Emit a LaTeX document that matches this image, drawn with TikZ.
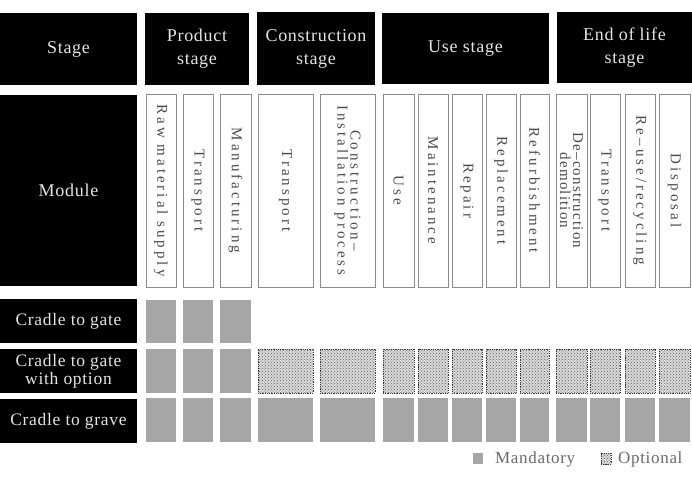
\documentclass[tikz,border=0pt]{standalone}
\usepackage{fontspec}
\setmainfont{Liberation Serif}
\newfontfamily\hdfont[LetterSpace=4]{Liberation Serif}
\newfontfamily\modfont[LetterSpace=20]{Liberation Serif}
\newfontfamily\modfontn[LetterSpace=8]{Liberation Serif}
\usetikzlibrary{patterns}
\definecolor{mand}{HTML}{A6A6A6}
\definecolor{lighttext}{HTML}{E4E4E4}
\definecolor{modtext}{HTML}{4A4A4A}
\definecolor{legtext}{HTML}{6A6A6A}
\definecolor{modline}{HTML}{8A8A8A}
\newcommand\hbx[6]{\node[#1, minimum width={(#4)-(#2)}, minimum height={(#5)-(#3)}] (#6) at ({((#2)+(#4))/2},{((#3)+(#5))/2})}
\newcommand\vbx[6]{\node[#1, minimum height={(#4)-(#2)}, minimum width={(#5)-(#3)}] (#6) at ({((#2)+(#4))/2},{((#3)+(#5))/2})}
\begin{document}
\begin{tikzpicture}[x=1pt,y=-1pt,
  blackbox/.style={fill=black, draw=none, text=lighttext, inner sep=0pt, outer sep=0pt, align=center, font=\hdfont\fontsize{18}{23}\selectfont},
  rowbox/.style={blackbox, font=\hdfont\fontsize{17.5}{18}\selectfont},
  modbox/.style={draw=modline, line width=0.8pt, fill=white, inner sep=0pt, outer sep=0pt, align=center, text=modtext, font=\modfont\fontsize{15}{13}\selectfont, rotate=-90},
  mandcell/.style={fill=mand, inner sep=0pt, outer sep=0pt},
  optcell/.style={preaction={fill=gray!30}, pattern=crosshatch dots, pattern color=gray!75!black, draw=gray!45!black, densely dotted, line width=0.8pt, inner sep=0pt, outer sep=0pt},
  legtxt/.style={anchor=west, inner sep=0pt, text=legtext, font=\hdfont\fontsize{17}{17}\selectfont}
]
\useasboundingbox[fill=white] (0,0) rectangle (692,484);

% header row
\hbx{blackbox}{0}{13}{137}{85}{hstage}{Stage};
\hbx{blackbox}{145}{13}{249}{85}{hprod}{Product\\stage};
\hbx{blackbox}{257}{12}{375}{85}{hcons}{Construction\\stage};
\hbx{blackbox}{382}{13}{549}{84}{huse}{Use stage};
\hbx{blackbox}{557}{12}{692}{83}{heol}{End of life\\stage};

% module row
\hbx{blackbox}{0}{95}{137}{286}{hmod}{Module};
\vbx{modbox}{146}{94}{176}{287}{m1}{Raw material supply};
\vbx{modbox}{183}{94}{213}{287}{m2}{Transport};
\vbx{modbox}{220}{94}{251}{287}{m3}{Manufacturing};
\vbx{modbox}{258}{94}{313}{287}{m4}{Transport};
\vbx{modbox}{320}{94}{375}{287}{m5}{Construction–\\Installation process};
\vbx{modbox}{383}{94}{414}{287}{m6}{Use};
\vbx{modbox}{418}{94}{448}{287}{m7}{Maintenance};
\vbx{modbox}{452}{94}{482}{287}{m8}{Repair};
\vbx{modbox}{486}{94}{516}{287}{m9}{Replacement};
\vbx{modbox}{520}{94}{549}{287}{m10}{Refurbishment};
\vbx{modbox, font=\modfontn\fontsize{15}{13}\selectfont}{556}{94}{587}{287}{m11}{De–construction\\demolition};
\vbx{modbox}{590}{94}{620}{287}{m12}{Transport};
\vbx{modbox}{625}{94}{655}{287}{m13}{Re–use/recycling};
\vbx{modbox}{659}{94}{690}{287}{m14}{Disposal};

% scenario rows
\hbx{rowbox}{0}{299}{137}{343}{rgate}{Cradle to gate};
\hbx{rowbox}{0}{349}{137}{393}{ropt}{Cradle to gate\\with option};
\hbx{rowbox}{0}{399}{137}{443}{rgrave}{Cradle to grave};

\foreach \a/\b/\i in {146/176/1,183/213/2,220/251/3}{
  \hbx{mandcell}{\a}{300}{\b}{343}{ra\i}{};
  \hbx{mandcell}{\a}{349}{\b}{393}{rb\i}{};
}
\foreach \a/\b/\i in {258/313/4,320/375/5,383/414/6,418/448/7,452/482/8,486/516/9,520/549/10,556/587/11,590/620/12,625/655/13,659/690/14}{
  \hbx{optcell}{\a}{349}{\b}{393}{rb\i}{};
}
\foreach \a/\b/\i in {146/176/1,183/213/2,220/251/3,258/313/4,320/375/5,383/414/6,418/448/7,452/482/8,486/516/9,520/549/10,556/587/11,590/620/12,625/655/13,659/690/14}{
  \hbx{mandcell}{\a}{398}{\b}{442}{rc\i}{};
}

% legend
\hbx{mandcell}{473}{453}{483}{464}{lgm}{};
\node[legtxt] (lgmt) at (495,459) {Mandatory};
\hbx{optcell}{601}{453}{611}{464}{lgo}{};
\node[legtxt] (lgot) at (618,459) {Optional};
\end{tikzpicture}
\end{document}
